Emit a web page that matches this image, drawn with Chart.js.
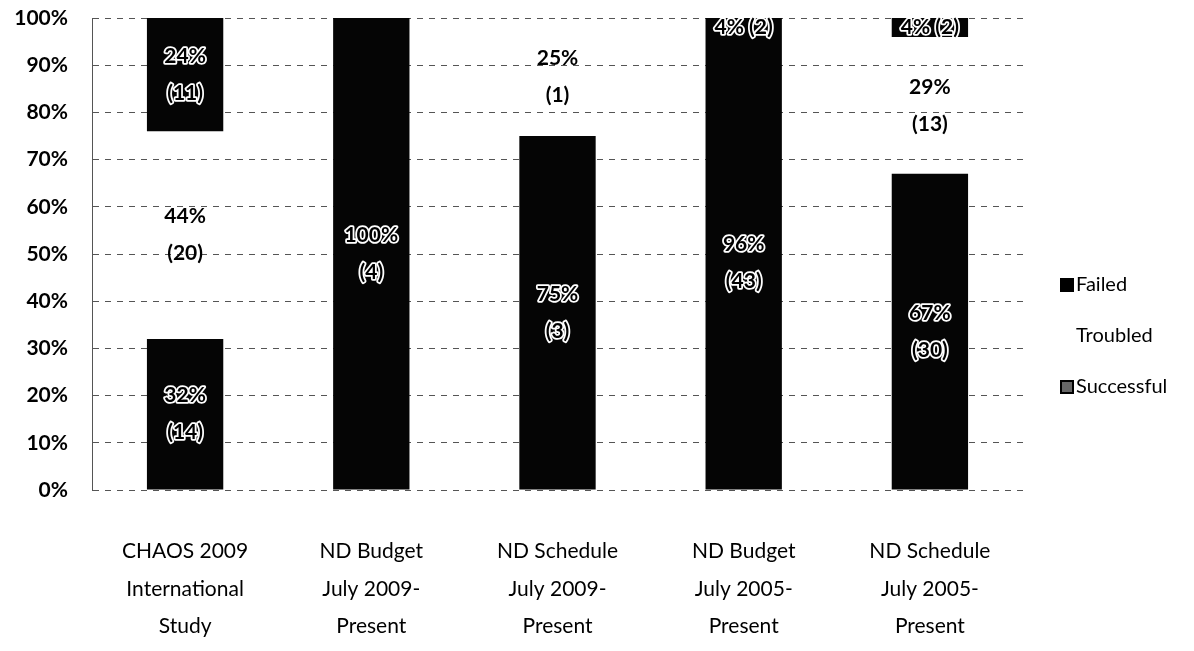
<!DOCTYPE html>
<html>
<head>
<meta charset="utf-8">
<script src="https://cdn.jsdelivr.net/npm/chart.js@4"></script>
<style>
  html, body { margin: 0; padding: 0; background: #fff; }
  #wrap { width: 1194px; height: 651px; position: relative; }
</style>
</head>
<body>
<div id="wrap"><canvas id="projectChart"></canvas></div>
<script>
// ------------------------------------------------------------
// DATA
// ------------------------------------------------------------
const categories = [
  ["CHAOS 2009", "International", "Study"],
  ["ND Budget", "July 2009-", "Present"],
  ["ND Schedule", "July 2009-", "Present"],
  ["ND Budget", "July 2005-", "Present"],
  ["ND Schedule", "July 2005-", "Present"]
];

const successfulPct = [32, 100, 75, 96, 67];
const successfulCount = [14, 4, 3, 43, 30];

const troubledPct = [44, 0, 25, 0, 29];
const troubledCount = [20, 0, 1, 0, 13];

const failedPct = [24, 0, 0, 4, 4];
const failedCount = [11, 0, 0, 2, 2];

const yTicks = [0, 10, 20, 30, 40, 50, 60, 70, 80, 90, 100];

const FONT = "Lato, 'Open Sans', sans-serif";

// ------------------------------------------------------------
// SEGMENT LABELS
// ------------------------------------------------------------
const segmentLabels = {
  id: "segmentLabels",
  afterDatasetsDraw(chart) {
    const ctx = chart.ctx;
    ctx.save();
    ctx.textAlign = "center";
    ctx.textBaseline = "middle";
    ctx.font = "bold 21px " + FONT;
    ctx.lineJoin = "round";

    chart.data.datasets.forEach((ds, di) => {
      const meta = chart.getDatasetMeta(di);
      meta.data.forEach((bar, i) => {
        const pct = ds.data[i];
        if (!pct) return;
        const n = ds.counts[i];
        const mid = (bar.y + bar.base) / 2;
        const lines = (bar.base - bar.y) < 50
          ? [pct + "% (" + n + ")"]
          : [pct + "%", "(" + n + ")"];
        const lh = 37;
        lines.forEach((txt, li) => {
          const y = mid + (li - (lines.length - 1) / 2) * lh;
          if (ds.darkLabel) {
            ctx.strokeStyle = "#fff";
            ctx.lineWidth = 3.5;
            ctx.strokeText(txt, bar.x, y);
          }
          ctx.fillStyle = "#000";
          ctx.fillText(txt, bar.x, y);
        });
      });
    });
    ctx.restore();
  }
};

// ------------------------------------------------------------
// LEGEND (drawn by hand, on the right)
// ------------------------------------------------------------
const sideLegend = {
  id: "sideLegend",
  afterDraw(chart) {
    const ctx = chart.ctx;
    const x = chart.chartArea.right + 38;
    const y0 = 285;
    const gap = 51;
    ctx.save();
    ctx.font = "20px " + FONT;
    ctx.textBaseline = "middle";
    ctx.textAlign = "left";
    const items = [...chart.data.datasets].reverse();
    items.forEach((ds, k) => {
      const y = y0 + k * gap;
      if (ds.legendFill) {
        ctx.fillStyle = ds.legendFill;
        ctx.fillRect(x, y - 6, 12, 12);
        ctx.strokeStyle = "#000";
        ctx.lineWidth = 2;
        ctx.strokeRect(x, y - 6, 12, 12);
      }
      ctx.fillStyle = "#000";
      ctx.fillText(ds.label, x + 15, y);
    });
    ctx.restore();
  }
};

// ------------------------------------------------------------
// CHART
// ------------------------------------------------------------
const ctx = document.getElementById("projectChart");

new Chart(ctx, {
  type: "bar",
  data: {
    labels: categories,
    datasets: [
      {
        label: "Successful",
        data: successfulPct,
        counts: successfulCount,
        backgroundColor: "#050505",
        legendFill: "#666",
        darkLabel: true
      },
      {
        label: "Troubled",
        data: troubledPct,
        counts: troubledCount,
        backgroundColor: "rgba(255,255,255,0)",
        legendFill: null,
        darkLabel: false
      },
      {
        label: "Failed",
        data: failedPct,
        counts: failedCount,
        backgroundColor: "#050505",
        legendFill: "#000",
        darkLabel: true
      }
    ]
  },
  options: {
    responsive: true,
    maintainAspectRatio: false,
    animation: false,
    layout: { padding: { top: 18, right: 171, bottom: 0, left: 0 } },
    datasets: {
      bar: { categoryPercentage: 1.0, barPercentage: 0.41 }
    },
    scales: {
      x: {
        stacked: true,
        grid: { display: false },
        border: { display: false },
        ticks: {
          color: "#000",
          font: { family: FONT, size: 21, lineHeight: 1.78 },
          padding: 35,
          maxRotation: 0
        },
        afterFit(scale) { scale.height = 161; }
      },
      y: {
        stacked: true,
        min: 0,
        max: 100,
        afterBuildTicks(scale) { scale.ticks = yTicks.map(v => ({ value: v })); },
        grid: {
          color: "#555",
          lineWidth: 1,
          drawTicks: false
        },
        border: { display: true, color: "#555", dash: [6, 6] },
        ticks: {
          color: "#000",
          font: { family: FONT, size: 21, weight: "bold", lineHeight: 0.5 },
          padding: 24,
          callback: v => v + "%"
        },
        afterFit(scale) {
          scale.width = 92;
          scale.paddingTop = 0;
          scale.paddingBottom = 0;
        }
      }
    },
    plugins: {
      legend: { display: false },
      tooltip: { enabled: false }
    }
  },
  plugins: [segmentLabels, sideLegend]
});
</script>
</body>
</html>
